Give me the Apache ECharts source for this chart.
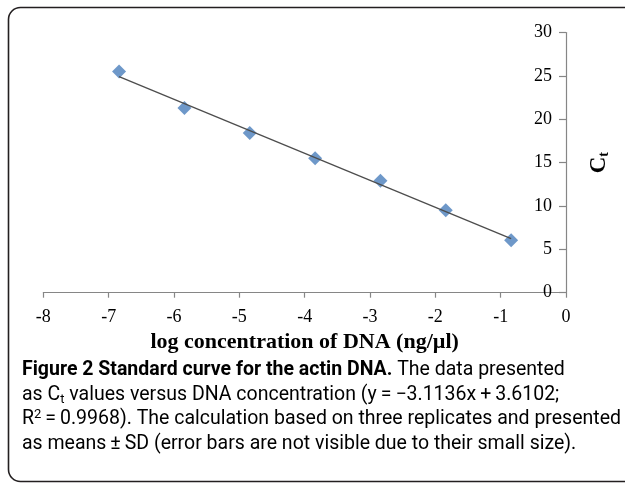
<!DOCTYPE html>
<html lang="en">
<head>
	<title>Standard curve for the actin DNA</title>
	<meta charset='utf-8'>
	<style>
		body { margin: 0; background: #fff; }
		#container { width: 625px; height: 484px; }
	</style>
</head>

<body>
	<div id="container"></div>

	<script src="https://cdn.jsdelivr.net/npm/echarts@6/dist/echarts.min.js"></script>
	<script type="text/javascript">
		// values
		let logConc = [-6.84, -5.84, -4.84, -3.84, -2.84, -1.84, -0.84];
		let ctValues = [25.5, 21.3, 18.4, 15.5, 12.9, 9.5, 6.05];
		// trend line from the caption: y = -3.1136x + 3.6102
		let trendSlope = -3.1136;
		let trendIntercept = 3.6102;
		let xMin = -8, xMax = 0, xStep = 1;
		let yMin = 0, yMax = 30, yStep = 5;

		let captionLines = [
			'{b|Figure 2 Standard curve for the actin DNA.}{n| The data presented}',
			'{n|as C}{sub|t}{n| values versus DNA concentration (y\u2009=\u2009\u22123.1136x\u2009+\u20093.6102;}',
			'{n|R}{sup|2}{n|\u2009=\u20090.9968). The calculation based on three replicates and presented}',
			'{n|as means\u2009\u00b1\u2009SD (error bars are not visible due to their small size).}'
		];

		let points = logConc.map(function (x, i) { return [x, ctValues[i]]; });
		let x0 = logConc[0];
		let x1 = logConc[logConc.length - 1];
		let trendData = [
			[x0, trendSlope * x0 + trendIntercept],
			[x1, trendSlope * x1 + trendIntercept]
		];

		let serif = "'Liberation Serif', 'DejaVu Serif', serif";
		let sans = "Roboto, 'Noto Sans', sans-serif";
		let axisGrey = '#868686';

		let captionRich = {
			b: { fontFamily: sans, fontSize: 19.5, fontWeight: 'bold', color: '#231f20' },
			n: { fontFamily: sans, fontSize: 19.5, color: '#231f20' },
			sub: { fontFamily: sans, fontSize: 13, color: '#231f20', padding: [9, 0, 0, 0] },
			sup: { fontFamily: sans, fontSize: 13, color: '#231f20', padding: [0, 0, 9, 0] }
		};
		let captionY = [370, 395, 419, 444];

		let graphics = [{
			type: 'rect',
			shape: { x: 8.5, y: 7.5, width: 700, height: 474, r: 12 },
			style: { fill: 'none', stroke: '#231f20', lineWidth: 1.6 },
			silent: true
		}];
		captionLines.forEach(function (line, i) {
			graphics.push({
				type: 'text',
				x: 22,
				y: captionY[i],
				style: { text: line, align: 'left', verticalAlign: 'middle', rich: captionRich }
			});
		});

		let dom = document.getElementById('container');
		let myChart = echarts.init(dom, null, { renderer: 'canvas', width: 625, height: 484 });

		let option = {
			animation: false,
			backgroundColor: '#fff',
			grid: {
				left: 43.3,
				right: 59,
				top: 32.5,
				bottom: 191.3,
				containLabel: false,
				outerBoundsMode: 'none'
			},
			xAxis: {
				type: 'value',
				min: xMin,
				max: xMax,
				interval: xStep,
				name: 'log concentration of DNA (ng/\u00b5l)',
				nameLocation: 'middle',
				nameGap: 37,
				nameTextStyle: { fontFamily: serif, fontSize: 22, fontWeight: 'bold', color: '#000' },
				axisLine: { onZero: false, lineStyle: { color: axisGrey, width: 1.2 } },
				axisTick: { show: true, inside: false, length: 5, lineStyle: { color: axisGrey, width: 1.2 } },
				axisLabel: { fontFamily: serif, fontSize: 18, color: '#000', margin: 16 },
				splitLine: { show: false }
			},
			yAxis: {
				type: 'value',
				min: yMin,
				max: yMax,
				interval: yStep,
				position: 'right',
				name: '{c|C}{t|t}',
				nameLocation: 'middle',
				nameGap: 22,
				nameTextStyle: {
					rich: {
						c: { fontFamily: serif, fontSize: 23, fontWeight: 'bold', color: '#000' },
						t: { fontFamily: serif, fontSize: 14, fontWeight: 'bold', color: '#000', padding: [9, 0, 0, 0] }
					}
				},
				axisLine: { show: true, onZero: false, lineStyle: { color: axisGrey, width: 1.2 } },
				axisTick: { show: true, inside: true, length: 7, lineStyle: { color: axisGrey, width: 1.2 } },
				axisLabel: { inside: true, fontFamily: serif, fontSize: 18, color: '#000', margin: 14 },
				splitLine: { show: false }
			},
			series: [{
				name: 'Ct',
				type: 'scatter',
				symbol: 'diamond',
				symbolSize: 14,
				itemStyle: { color: '#4a7ebb' },
				data: points,
				z: 2
			}, {
				name: 'trend',
				type: 'line',
				showSymbol: false,
				silent: true,
				lineStyle: { color: '#4d4d4d', width: 1.3 },
				data: trendData,
				z: 3
			}],
			graphic: graphics
		};

		myChart.setOption(option);
	</script>
</body>
</html>
